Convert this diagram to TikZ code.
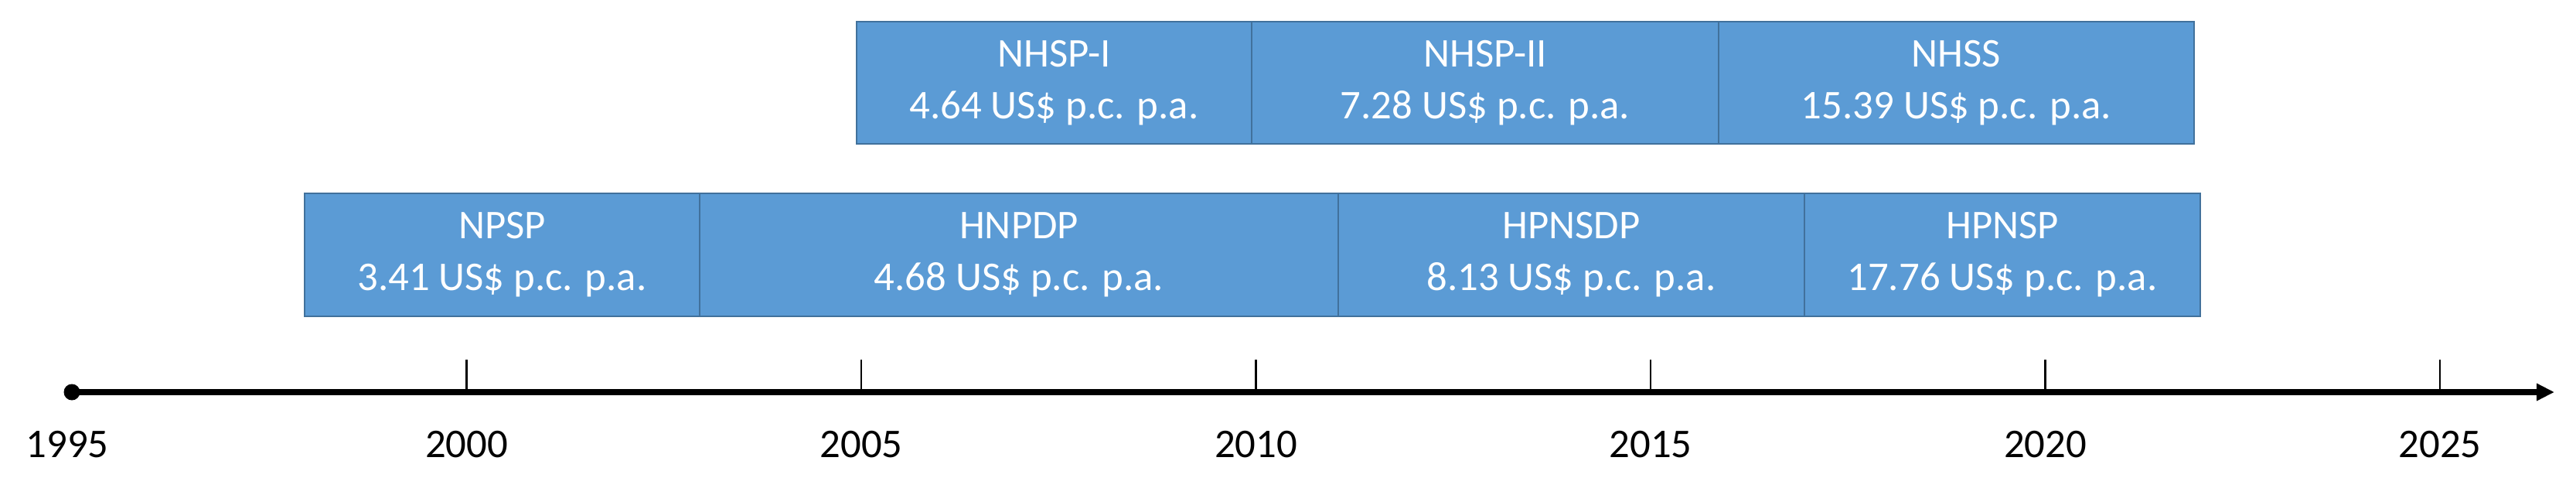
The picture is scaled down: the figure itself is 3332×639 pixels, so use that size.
\documentclass[tikz,border=0pt]{standalone}
\usepackage{fontspec}
\setmainfont{Carlito}
\usetikzlibrary{arrows.meta}
\definecolor{boxfill}{HTML}{5B9BD5}
\definecolor{boxline}{HTML}{41719C}
\begin{document}
\begin{tikzpicture}[x=0.01cm,y=-0.01cm,
  period/.style={draw=boxline, line width=0.7pt, fill=boxfill, text=white,
    align=center, inner sep=0pt, font=\fontsize{15pt}{19pt}\selectfont},
  toprow/.style={period, minimum height=1.58cm},
  botrow/.style={period, minimum height=1.59cm},
  yearlabel/.style={font=\fontsize{15pt}{19pt}\selectfont, text=black, inner sep=0pt},
  tickline/.style={line width=0.6pt, black},
  axisline/.style={line width=2pt, black, -{Triangle[length=6.5pt,width=6pt]}}
]
\useasboundingbox (0,0) rectangle (3332,639);

% top row
\node[toprow, minimum width=5.11cm] (nhspi) at (1363.5,107) {NHSP-I\\4.64 US\$ p.c. p.a.};
\node[toprow, minimum width=6.04cm] (nhspii) at (1921,107) {NHSP-II\\7.28 US\$ p.c. p.a.};
\node[toprow, minimum width=6.15cm] (nhss) at (2530.5,107) {NHSS\\15.39 US\$ p.c. p.a.};

% bottom row
\node[botrow, minimum width=5.11cm] (npsp) at (649.5,329.5) {NPSP\\3.41 US\$ p.c. p.a.};
\node[botrow, minimum width=8.26cm] (hnpdp) at (1318,329.5) {HNPDP\\4.68 US\$ p.c. p.a.};
\node[botrow, minimum width=6.03cm] (hpnsdp) at (2032.5,329.5) {HPNSDP\\8.13 US\$ p.c. p.a.};
\node[botrow, minimum width=5.12cm] (hpnsp) at (2590,329.5) {HPNSP\\17.76 US\$ p.c. p.a.};

% axis
\coordinate (start) at (93,507);
\coordinate (tip) at (3304,507);
\draw[axisline] (start) -- (tip);
\fill[black] (start) circle[radius=10.5];

% ticks and labels
\foreach \yr/\xx in {2000/603.5, 2005/1114, 2010/1624.5, 2015/2135, 2020/2645.5, 2025/3156}{
  \coordinate (t\yr) at (\xx,507);
  \coordinate (tt\yr) at (\xx,465);
  \draw[tickline] (t\yr) -- (tt\yr);
  \node[yearlabel] (l\yr) at (\xx,575) {\yr};
}
\node[yearlabel] (l1995) at (87,575) {1995};
\end{tikzpicture}
\end{document}
